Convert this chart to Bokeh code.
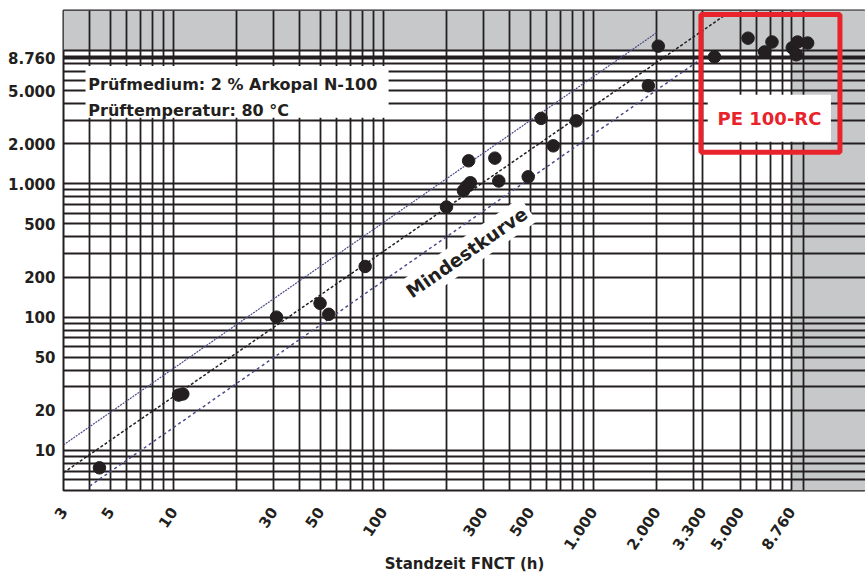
import math
from bokeh.plotting import figure
from bokeh.models import FixedTicker, Label, BoxAnnotation, Range1d, ColumnDataSource
from bokeh.embed import file_html
from bokeh.resources import INLINE

# ---------------- data ----------------
fnct_hours = [4.45, 10.6, 11.1, 31, 50, 55, 82, 200, 241, 250, 260, 255,
              340, 355, 490, 565, 645, 830, 1830, 2040, 3780, 5460,
              6550, 7100, 8870, 9270, 9400, 10500]
target_hours = [7.4, 26, 26.5, 100, 127, 105, 240, 670, 890, 960, 1020, 1490,
                1560, 1050, 1130, 3100, 1930, 2970, 5450, 10800, 8970, 12400,
                9780, 11600, 10500, 9300, 11600, 11400]

upper_x = [3, 2000]
upper_y = [11, 13600]
mid_x = [3, 4250]
mid_y = [6.8, 18500]
low_x = [4, 3300]
low_y = [5.4, 8760]

x_tick_values = [3, 5, 10, 30, 50, 100, 300, 500, 1000, 2000, 3300, 5000, 8760]
x_tick_labels = ["3", "5", "10", "30", "50", "100", "300", "500",
                 "1.000", "2.000", "3.300", "5.000", "8.760"]
y_tick_values = [10, 20, 50, 100, 200, 500, 1000, 2000, 5000, 8760]
y_tick_labels = ["10", "20", "50", "100", "200", "500",
                 "1.000", "2.000", "5.000", "8.760"]

# grid line positions (style)
x_grid = [m * 10 ** e for e in range(0, 4) for m in range(1, 10)]
x_grid = [v for v in x_grid if v >= 4 and v not in (4000, 9000)] + [3300, 8760, 10000]
y_grid = [m * 10 ** e for e in range(0, 4) for m in range(1, 10)]
y_grid = [v for v in y_grid if v >= 6] + [8760, 10000]

FONT = "DejaVu Sans"
INK = "#231f20"
RED = "#e8232b"
GREY = "#c7c8ca"

p = figure(width=865, height=576, x_axis_type="log", y_axis_type="log",
           x_range=Range1d(3, 19800), y_range=Range1d(5, 20000),
           output_backend="svg", toolbar_location=None,
           min_border_left=63, min_border_right=0, min_border_top=10,
           min_border_bottom=86)
p.background_fill_color = "white"
p.border_fill_color = "white"
p.outline_line_color = INK
p.outline_line_width = 2

# grey zones (below the grid)
p.add_layout(BoxAnnotation(bottom=10000, fill_color=GREY, fill_alpha=1,
                           line_color=None, level="image"))
p.add_layout(BoxAnnotation(left=8760, fill_color=GREY, fill_alpha=1,
                           line_color=None, level="image"))

# grid
for g, ticks in ((p.xgrid, x_grid), (p.ygrid, y_grid)):
    g.ticker = FixedTicker(ticks=ticks)
    g.grid_line_color = INK
    g.grid_line_width = 1.8
    g.grid_line_alpha = 1

# axes
def overrides(vals, labs):
    d = {}
    for v, l in zip(vals, labs):
        d[v] = l
        d[str(v)] = l
    return d

p.xaxis.ticker = FixedTicker(ticks=x_tick_values)
p.yaxis.ticker = FixedTicker(ticks=y_tick_values)
p.xaxis.major_label_overrides = overrides(x_tick_values, x_tick_labels)
p.yaxis.major_label_overrides = overrides(y_tick_values, y_tick_labels)
for ax in (p.xaxis, p.yaxis):
    ax.axis_line_color = None
    ax.major_tick_line_color = None
    ax.minor_tick_line_color = None
    ax.major_tick_out = 0
    ax.minor_tick_out = 0
    ax.major_tick_in = 0
    ax.minor_tick_in = 0
    ax.major_label_text_font = FONT
    ax.major_label_text_font_style = "bold"
    ax.major_label_text_color = INK
p.yaxis.major_label_text_font_size = "15px"
p.yaxis.major_label_standoff = 8
p.xaxis.major_label_text_font_size = "15px"
p.xaxis.major_label_orientation = math.radians(56)
p.xaxis.major_label_standoff = 18
p.xaxis.axis_label = "Standzeit FNCT (h)"
p.xaxis.axis_label_text_font = FONT
p.xaxis.axis_label_text_font_style = "bold"
p.xaxis.axis_label_text_font_size = "15px"
p.xaxis.axis_label_text_color = INK
p.xaxis.axis_label_standoff = -3

# regression lines
p.line(upper_x, upper_y, line_color="#4a4a88", line_width=1.2, line_dash="2 1")
p.line(mid_x, mid_y, line_color=INK, line_width=1.5, line_dash="3 2")
p.line(low_x, low_y, line_color="#4b4b8c", line_width=1.5, line_dash="3 3")

# data points
src = ColumnDataSource(dict(x=fnct_hours, y=target_hours))
p.scatter("x", "y", source=src, size=12.5, fill_color=INK, line_color=INK)

# info box
p.add_layout(BoxAnnotation(left=3.82, right=106, top=7680, bottom=3130,
                           fill_color="white", fill_alpha=1, line_color=None))
p.add_layout(Label(x=3.94, y=5600, text="Prüfmedium: 2 % Arkopal N-100",
                   text_font=FONT, text_font_style="bold", text_font_size="16px",
                   text_color=INK, text_align="left", text_baseline="middle"))
p.add_layout(Label(x=3.94, y=3580, text="Prüftemperatur: 80 °C",
                   text_font=FONT, text_font_style="bold", text_font_size="16px",
                   text_color=INK, text_align="left", text_baseline="middle"))

# Mindestkurve label
p.add_layout(Label(x=250, y=305, text="Mindestkurve", angle=math.radians(35),
                   text_font=FONT, text_font_style="bold", text_font_size="18.5px",
                   text_color=INK, text_align="center", text_baseline="middle",
                   background_fill_color="white", background_fill_alpha=1,
                   padding=4))

# PE 100-RC box
p.add_layout(BoxAnnotation(left=3257, right=14960, top=18660, bottom=1726,
                           fill_color=None, line_color=RED, line_width=5,
                           line_alpha=1))
p.add_layout(BoxAnnotation(left=3510, right=13560, top=4656, bottom=2070,
                           fill_color="white", fill_alpha=1, line_color=None))
p.add_layout(Label(x=6910, y=3080, text="PE 100-RC",
                   text_font=FONT, text_font_style="bold", text_font_size="18px",
                   text_color=RED, text_align="center", text_baseline="middle"))

open("out.html", "w").write(file_html(p, INLINE))
